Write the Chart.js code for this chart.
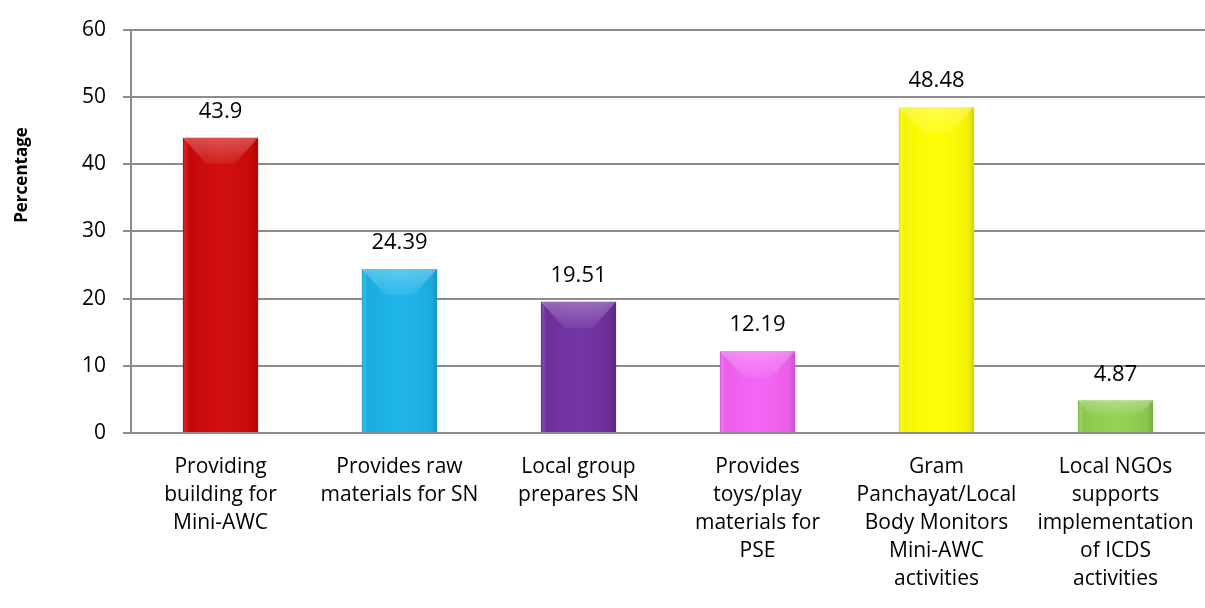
<!DOCTYPE html>
<html>
<head>
<meta charset="utf-8">
<script src="https://cdn.jsdelivr.net/npm/chart.js@4/dist/chart.umd.min.js"></script>
<style>
  html, body { margin: 0; padding: 0; background: #fff; }
  #wrap { width: 1205px; height: 608px; }
</style>
</head>
<body>
<div id="wrap"><canvas id="bar-chart"></canvas></div>
<script>
// data
const categories = [
    ['Providing', 'building for', 'Mini-AWC'],
    ['Provides raw', 'materials for SN'],
    ['Local group', 'prepares SN'],
    ['Provides', 'toys/play', 'materials for', 'PSE'],
    ['Gram', 'Panchayat/Local', 'Body Monitors', 'Mini-AWC', 'activities'],
    ['Local NGOs', 'supports', 'implementation', 'of ICDS', 'activities']
];
const values = [43.9, 24.39, 19.51, 12.19, 48.48, 4.87];
const valueLabels = ['43.9', '24.39', '19.51', '12.19', '48.48', '4.87'];
const barColors = ['#d00808', '#1ab4ea', '#7030a0', '#f462f4', '#ffff00', '#92d050'];
const yMin = 0, yMax = 60, yStep = 10;
const yTitle = 'Percentage';

const FONT = '"Open Sans", Lato, sans-serif';

// bevel look on each bar, drawn over the bars the library placed
const bevelPlugin = {
    id: 'bevel',
    afterDatasetsDraw(chart) {
        const ctx = chart.ctx;
        chart.getDatasetMeta(0).data.forEach(function (bar) {
            const w = bar.width;
            const left = bar.x - w / 2, right = bar.x + w / 2;
            const top = bar.y, bottom = bar.base;
            const h = bottom - top;
            ctx.save();
            // darker side strips
            let g = ctx.createLinearGradient(left, 0, right, 0);
            g.addColorStop(0, 'rgba(0,0,0,0.16)');
            g.addColorStop(0.03, 'rgba(255,255,255,0.12)');
            g.addColorStop(0.09, 'rgba(0,0,0,0.04)');
            g.addColorStop(0.5, 'rgba(255,255,255,0.03)');
            g.addColorStop(0.92, 'rgba(0,0,0,0.05)');
            g.addColorStop(1, 'rgba(0,0,0,0.18)');
            ctx.fillStyle = g;
            ctx.fillRect(left, top, w, h);
            // top bevel
            const bh = Math.min(26, h * 0.45);
            ctx.beginPath();
            ctx.moveTo(left, top);
            ctx.lineTo(right, top);
            ctx.lineTo(right - bh * 0.9, top + bh);
            ctx.lineTo(left + bh * 0.9, top + bh);
            ctx.closePath();
            let tg = ctx.createLinearGradient(0, top, 0, top + bh);
            tg.addColorStop(0, 'rgba(255,255,255,0.28)');
            tg.addColorStop(1, 'rgba(255,255,255,0.06)');
            ctx.fillStyle = tg;
            ctx.fill();
            ctx.restore();
        });
    }
};

// value text above each bar and the y-axis title
const labelPlugin = {
    id: 'labels',
    afterDraw(chart) {
        const ctx = chart.ctx;
        ctx.save();
        ctx.fillStyle = '#000';
        ctx.font = '22px ' + FONT;
        ctx.textAlign = 'center';
        ctx.textBaseline = 'middle';
        chart.getDatasetMeta(0).data.forEach(function (bar, i) {
            ctx.fillText(valueLabels[i], bar.x, bar.y - 26);
        });
        ctx.font = 'bold 17px "Liberation Sans Narrow", ' + FONT;
        ctx.translate(22, 175);
        ctx.rotate(-Math.PI / 2);
        ctx.fillText(yTitle, 0, 0);
        ctx.restore();
    }
};

const ctx = document.getElementById('bar-chart').getContext('2d');

const chart = new Chart(ctx, {
    type: 'bar',
    data: {
        labels: categories,
        datasets: [{
            data: values,
            backgroundColor: barColors,
            borderWidth: 0,
            barPercentage: 0.42,
            categoryPercentage: 1
        }]
    },
    options: {
        responsive: true,
        maintainAspectRatio: false,
        animation: false,
        layout: { padding: { top: 29, right: 0, bottom: 0, left: 0 } },
        plugins: {
            legend: { display: false },
            tooltip: { enabled: false }
        },
        scales: {
            x: {
                grid: { display: false, drawTicks: false },
                border: { display: false },
                ticks: {
                    color: '#000',
                    font: { family: FONT, size: 21, lineHeight: 1.33 },
                    maxRotation: 0,
                    autoSkip: false,
                    padding: 20
                },
                afterFit: function (scale) {
                    scale.height = 175;
                    scale.paddingLeft = 0;
                    scale.paddingRight = 0;
                }
            },
            y: {
                min: yMin,
                max: yMax,
                grid: { color: '#8c8c8c', lineWidth: 2, tickLength: 8 },
                border: { color: '#8c8c8c', width: 2 },
                ticks: {
                    stepSize: yStep,
                    color: '#000',
                    font: { family: FONT, size: 21 },
                    padding: 17
                },
                afterFit: function (scale) { scale.width = 131; }
            }
        }
    },
    plugins: [bevelPlugin, labelPlugin]
});
</script>
</body>
</html>
